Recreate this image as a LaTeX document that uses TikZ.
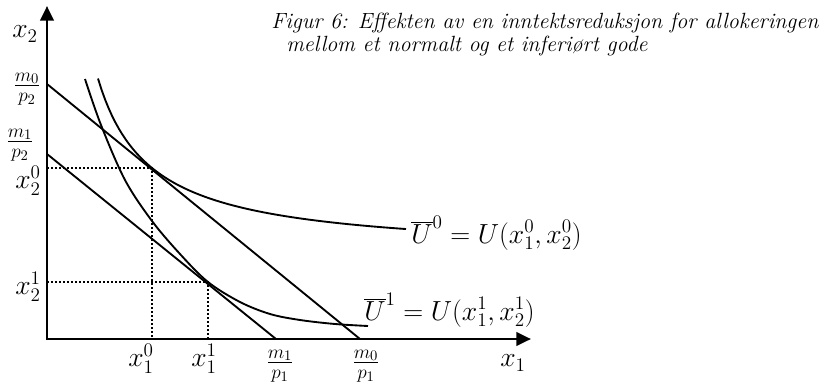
\documentclass[tikz,border=0pt]{standalone}
\usetikzlibrary{arrows.meta}
\begin{document}
\begin{tikzpicture}[x=0.75pt,y=-0.75pt,
  axis/.style={line width=2.2pt,-{Triangle[length=11pt,width=10pt]}},
  curve/.style={line width=1.4pt},
  guide/.style={line width=1.2pt,dash pattern=on 1.4pt off 1.6pt},
  lbl/.style={font=\fontsize{19.5}{22}\selectfont, inner sep=0pt},
  frc/.style={font=\fontsize{22}{26}\selectfont, inner sep=0pt},
  ttl/.style={font=\fontsize{16.5}{20}\selectfont\itshape, inner sep=0pt, anchor=base west}]
\useasboundingbox (0,0) rectangle (827,385);

% coordinates
\coordinate (O) at (47,339);
\coordinate (ytip) at (47,6);
\coordinate (xtip) at (531,339);
\coordinate (A0) at (47,84);
\coordinate (B0) at (360,339);
\coordinate (A1) at (47,154);
\coordinate (B1) at (276,339);
\coordinate (T0) at (152,168);
\coordinate (T1) at (208,282);

% axes
\draw[axis] (47,340.1) -- (ytip);
\draw[axis] (45.9,339) -- (xtip);

% dotted guides
\draw[guide] (O |- T0) -- (T0) -- (T0 |- O);
\draw[guide] (O |- T1) -- (T1) -- (T1 |- O);

% budget lines
\draw[curve] (A0) -- (B0);
\draw[curve] (A1) -- (B1);

% indifference curves
\draw[curve] plot[domain=98:406, samples=90] (\x, {254.6 - 9209/(\x-45.7)}) coordinate (U0end);
\draw[curve] plot[smooth, tension=0.55] coordinates {(85,79) (101,125) (125,180) (152,221) (180,254) (208,282) (240,302) (270,314) (300,320) (335,324) (368,326)} coordinate (U1end);

% labels
\node[lbl] (lx2) at (25,34) {$x_2$};
\node[lbl] (lx1) at (513,363) {$x_1$};
\node[frc] (m0p2) at (27,89) {$\frac{m_0}{p_2}$};
\node[frc] (m1p2) at (20,145) {$\frac{m_1}{p_2}$};
\node[lbl] (x20) at (28,181) {$x_2^0$};
\node[lbl] (x21) at (28,287) {$x_2^1$};
\node[lbl] (x10) at (141,359) {$x_1^0$};
\node[lbl] (x11) at (204,359) {$x_1^1$};
\node[frc] (m1p1) at (280,366) {$\frac{m_1}{p_1}$};
\node[frc] (m0p1) at (366,366) {$\frac{m_0}{p_1}$};
\node[lbl, anchor=base west] (u0) at (411,243) {$\overline{U}^0=U(x_1^0,x_2^0)$};
\node[lbl, anchor=base west] (u1) at (364,320) {$\overline{U}^1=U(x_1^1,x_2^1)$};

% title
\node[ttl] (t1) at (271,29) {Figur 6: Effekten av en inntektsreduksjon for allokeringen};
\node[ttl] (t2) at (286,52) {mellom et normalt og et inferiørt gode};
\end{tikzpicture}
\end{document}
